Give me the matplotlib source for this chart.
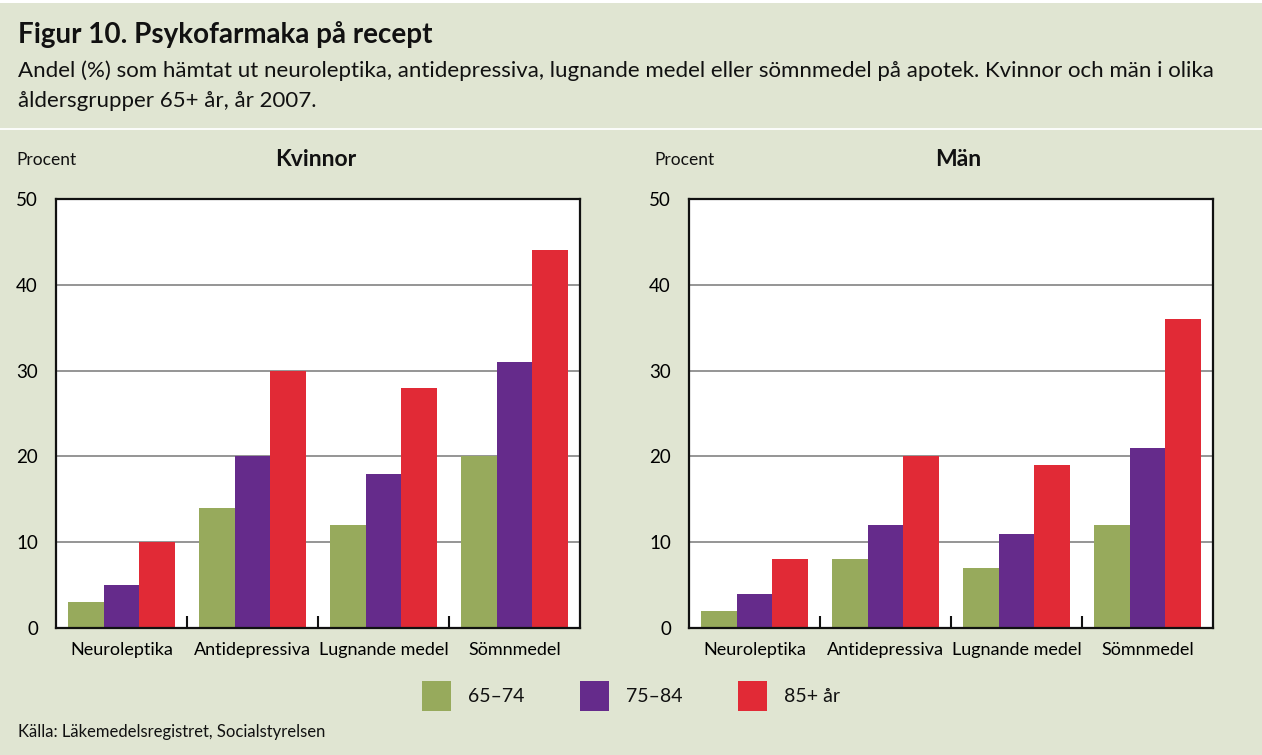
import numpy as np
import matplotlib.pyplot as plt
from matplotlib.patches import Rectangle
from matplotlib.lines import Line2D

# data
kategorier = ["Neuroleptika", "Antidepressiva", "Lugnande medel", "Sömnmedel"]
aldersgrupper = ["65–74", "75–84", "85+ år"]
kvinnor_65_74 = [3, 14, 12, 20]
kvinnor_75_84 = [5, 20, 18, 31]
kvinnor_85 = [10, 30, 28, 44]
man_65_74 = [2, 8, 7, 12]
man_75_84 = [4, 12, 11, 21]
man_85 = [8, 20, 19, 36]
y_ticks = [0, 10, 20, 30, 40, 50]

farger = ["#97aa5c", "#652b8b", "#e12a36"]
bg = "#e0e5d2"
W, H = 1262, 755

plt.rcParams['font.family'] = ['Lato', 'DejaVu Sans']

fig = plt.figure(figsize=(W / 100, H / 100), dpi=100, facecolor=bg)


def fx(x):
    return x / W


def fy(y):
    return 1 - y / H


# white strip on top and separator under the header
fig.patches.append(Rectangle((0, fy(3)), 1, 3 / H, transform=fig.transFigure,
                             facecolor="white", edgecolor="none", zorder=0))
fig.lines.append(Line2D([0, 1], [fy(129), fy(129)], transform=fig.transFigure,
                        color="white", lw=1.3))

fig.text(fx(18), fy(34), "Figur 10. Psykofarmaka på recept", fontsize=20,
         fontweight="bold", va="center", ha="left", color="#111111")
fig.text(fx(18), fy(71), "Andel (%) som hämtat ut neuroleptika, antidepressiva, lugnande medel "
         "eller sömnmedel på apotek. Kvinnor och män i olika", fontsize=16,
         va="center", ha="left", color="#111111")
fig.text(fx(18), fy(101), "åldersgrupper 65+ år, år 2007.", fontsize=16,
         va="center", ha="left", color="#111111")


def panel(left_px, serier, rubrik, rubrik_x, procent_x):
    ax = fig.add_axes([fx(left_px), fy(628), 524 / W, 429 / H])
    ax.set_facecolor("white")
    x = np.arange(len(kategorier))
    w = 0.272
    for j, vals in enumerate(serier):
        ax.bar(x + (j - 1) * w, vals, width=w, color=farger[j], zorder=2,
               label=aldersgrupper[j])
    ax.set_xlim(-0.5, len(kategorier) - 0.5)
    ax.set_ylim(0, 50)
    ax.set_yticks(y_ticks)
    ax.set_yticklabels([str(t) for t in y_ticks], fontsize=13.5)
    ax.set_xticks(x)
    ax.set_xticklabels(kategorier, fontsize=13)
    ax.set_xticks(x[:-1] + 0.5, minor=True)
    ax.tick_params(axis="x", which="major", length=0, pad=10)
    ax.tick_params(axis="x", which="minor", direction="in", length=9, width=1.5, color="#111111")
    ax.tick_params(axis="y", length=0, pad=13)
    for t in y_ticks[1:-1]:
        ax.axhline(t, color="#8c8c8c", lw=1.3, zorder=1)
    for s in ax.spines.values():
        s.set_linewidth(1.6)
        s.set_color("#111111")
    fig.text(fx(rubrik_x), fy(160), rubrik, fontsize=16.5, fontweight="bold",
             ha="center", va="center", color="#111111")
    fig.text(fx(procent_x), fy(160), "Procent", fontsize=12.5, ha="left",
             va="center", color="#111111")
    return ax


ax1 = panel(56, [kvinnor_65_74, kvinnor_75_84, kvinnor_85], "Kvinnor", 316, 16)
ax2 = panel(689, [man_65_74, man_75_84, man_85], "Män", 958, 654)

# legend drawn by hand to match the reference spacing
leg_x = [422, 580, 738]
for j, lab in enumerate(aldersgrupper):
    fig.patches.append(Rectangle((fx(leg_x[j]), fy(711)), 29 / W, 30 / H,
                                 transform=fig.transFigure, facecolor=farger[j],
                                 edgecolor="none"))
    fig.text(fx(leg_x[j] + 46), fy(697), lab, fontsize=14, ha="left",
             va="center", color="#111111")

fig.text(fx(18), fy(732), "Källa: Läkemedelsregistret, Socialstyrelsen", fontsize=12,
         ha="left", va="center", color="#111111")

fig.savefig("out.png", dpi=100, facecolor=bg)
